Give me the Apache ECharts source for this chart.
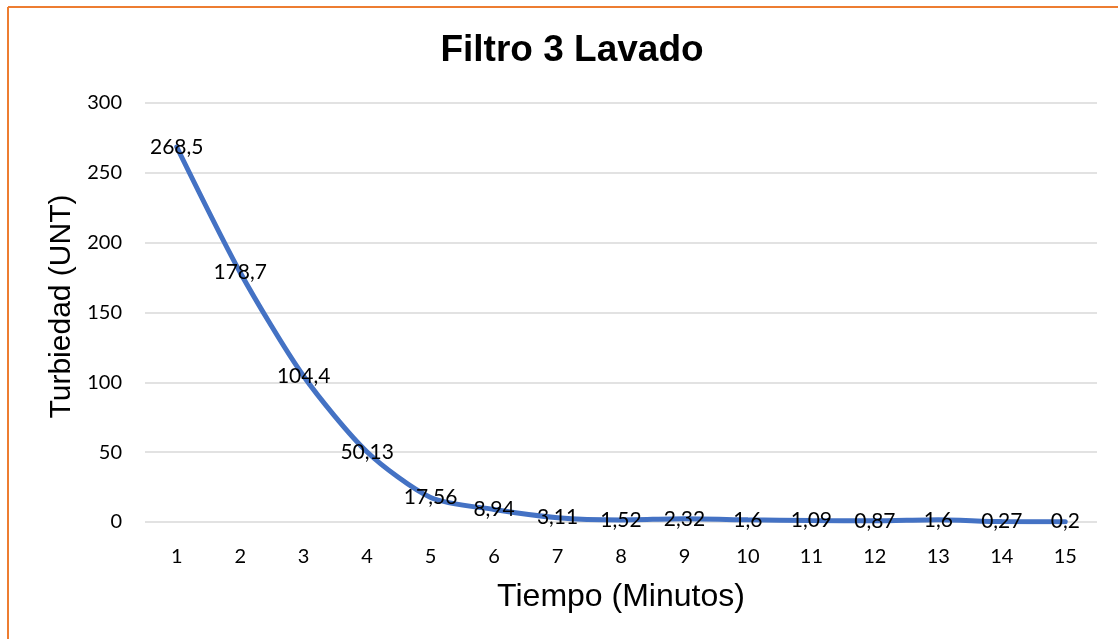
<!DOCTYPE html>
<html>
<head>
<meta charset="utf-8">
<script src="https://cdn.jsdelivr.net/npm/echarts@6/dist/echarts.min.js"></script>
<style>
  html, body { margin: 0; padding: 0; background: #fff; }
  #chart { width: 1118px; height: 639px; }
</style>
</head>
<body>
<div id="chart"></div>
<script>
// Turbidity during filter 3 backwash, one reading per minute
const minutes = ['1','2','3','4','5','6','7','8','9','10','11','12','13','14','15'];
const turbidity = [268.5, 178.7, 104.4, 50.13, 17.56, 8.94, 3.11, 1.52, 2.32, 1.6, 1.09, 0.87, 1.6, 0.27, 0.2];
const yTicks = [0, 50, 100, 150, 200, 250, 300];

const chart = echarts.init(document.getElementById('chart'));
chart.setOption({
  animation: false,
  title: {
    text: 'Filtro 3 Lavado',
    left: 567,
    textAlign: 'center',
    top: 27,
    textStyle: { fontFamily: 'Liberation Sans', fontWeight: 'bold', fontSize: 37, color: '#000' }
  },
  grid: { left: 145, right: 21, top: 103, bottom: 117 },
  xAxis: {
    type: 'category',
    data: minutes,
    boundaryGap: true,
    name: 'Tiempo (Minutos)',
    nameLocation: 'middle',
    nameGap: 59,
    nameTextStyle: { fontFamily: 'Liberation Sans', fontSize: 32, color: '#000' },
    axisLine: { show: false },
    axisTick: { show: false },
    axisLabel: { fontFamily: 'Lato', fontSize: 20, color: '#000', margin: 25 }
  },
  yAxis: {
    type: 'value',
    min: yTicks[0],
    max: yTicks[yTicks.length - 1],
    interval: 50,
    name: 'Turbiedad (UNT)',
    nameLocation: 'middle',
    nameGap: 68,
    nameTextStyle: { fontFamily: 'Liberation Sans', fontSize: 30, color: '#000', padding: [0, 0, 0, 12] },
    axisLine: { show: false },
    axisTick: { show: false },
    axisLabel: { fontFamily: 'Lato', fontSize: 20, color: '#000', margin: 23 },
    splitLine: { lineStyle: { color: '#d9d9d9', width: 1.5 } }
  },
  series: [{
    type: 'line',
    data: turbidity,
    smooth: 0.25,
    symbol: 'circle',
    symbolSize: 0.5,
    showSymbol: true,
    itemStyle: { color: '#4472C4' },
    lineStyle: { color: '#4472C4', width: 5, cap: 'round' },
    label: {
      show: true,
      position: 'inside',
      offset: [0, 2],
      fontFamily: 'Lato',
      fontSize: 21,
      color: '#000',
      formatter: p => String(p.value).replace('.', ',')
    },
    labelLayout: { hideOverlap: false }
  }],
  graphic: [
    { type: 'line', shape: { x1: 8, y1: 7, x2: 1118, y2: 7 }, style: { stroke: '#ED7D31', lineWidth: 2 } },
    { type: 'line', shape: { x1: 8, y1: 7, x2: 8, y2: 639 }, style: { stroke: '#ED7D31', lineWidth: 2 } }
  ]
});
</script>
</body>
</html>
